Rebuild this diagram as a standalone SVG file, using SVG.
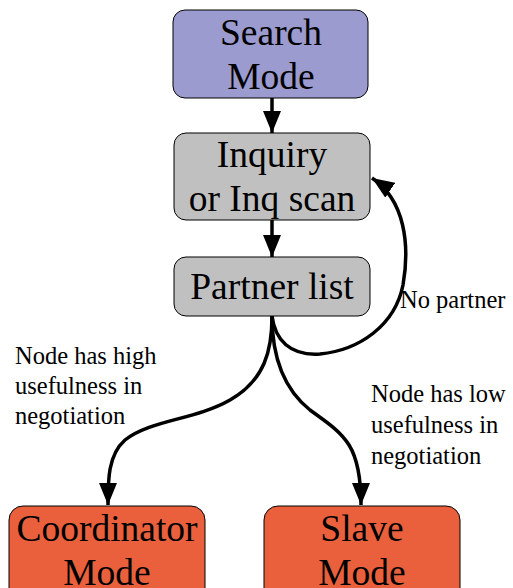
<svg xmlns="http://www.w3.org/2000/svg" width="513" height="588" viewBox="0 0 513 588">
<style>
.box{stroke:#000;stroke-width:1}
.nt{font-family:"Liberation Serif","Times New Roman",Tinos,serif;font-size:37.5px;text-anchor:middle;fill:#000}
.lt{font-family:"Liberation Serif","Times New Roman",Tinos,serif;font-size:24.5px;fill:#000}
.c{fill:none;stroke:#000;stroke-width:3.5}
</style>
<defs>
<marker id="a" viewBox="0 0 22 18" refX="22" refY="9" markerWidth="22" markerHeight="18" markerUnits="userSpaceOnUse" orient="auto">
<path d="M0,0 L22,9 L0,18 z" fill="#000"/>
</marker>
</defs>
<g id="connectors">
<path class="c" d="M272,98 L272,133" marker-end="url(#a)"/>
<path class="c" d="M272,220 L272,257" marker-end="url(#a)"/>
<path class="c" d="M272,316 C272,350 265,380 230,400 C195,420 150,420 125,440 C108,455 108,480 108,505" marker-end="url(#a)"/>
<path class="c" d="M272,316 C272,360 285,390 310,410 C345,435 361,445 361,505" marker-end="url(#a)"/>
<path class="c" d="M272,316 C275,340 290,356 320,354 C360,350 395,325 403,285 C410,245 405,200 372,178" marker-end="url(#a)"/>
</g>
<g id="search">
<rect class="box" x="173" y="10" width="195" height="88" rx="12" fill="#9b9bcf"/>
<text class="nt" x="271" y="45">Search</text>
<text class="nt" x="271" y="89">Mode</text>
</g>
<g id="inquiry">
<rect class="box" x="174" y="133" width="196" height="87" rx="12" fill="#c0c0c0"/>
<text class="nt" x="272" y="167">Inquiry</text>
<text class="nt" x="272" y="211">or Inq scan</text>
</g>
<g id="partner">
<rect class="box" x="174" y="257" width="196" height="59" rx="12" fill="#c0c0c0"/>
<text class="nt" x="272" y="299">Partner list</text>
</g>
<g id="coordinator">
<rect class="box" x="9" y="506" width="196" height="100" rx="14" fill="#ea603c"/>
<text class="nt" x="107" y="541">Coordinator</text>
<text class="nt" x="107" y="585">Mode</text>
</g>
<g id="slave">
<rect class="box" x="264" y="506" width="196" height="100" rx="14" fill="#ea603c"/>
<text class="nt" x="362" y="541">Slave</text>
<text class="nt" x="362" y="585">Mode</text>
</g>
<g id="labels">
<text class="lt" x="400" y="308">No partner</text>
<text class="lt" x="15" y="364">Node has high</text>
<text class="lt" x="15" y="394">usefulness in</text>
<text class="lt" x="15" y="424">negotiation</text>
<text class="lt" x="371" y="402">Node has low</text>
<text class="lt" x="371" y="433">usefulness in</text>
<text class="lt" x="371" y="464">negotiation</text>
</g>
</svg>
